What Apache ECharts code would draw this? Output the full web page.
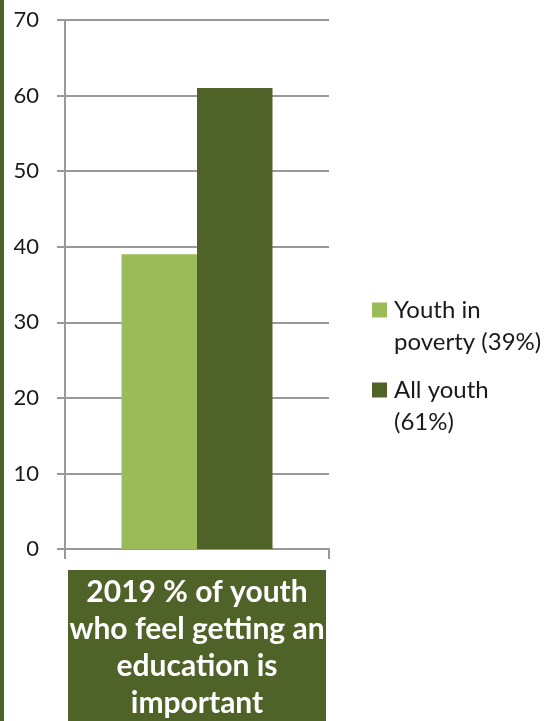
<!DOCTYPE html>
<html>
<head>
<meta charset="utf-8">
<script src="https://cdn.jsdelivr.net/npm/echarts@6/dist/echarts.min.js"></script>
<style>
html,body{margin:0;padding:0;background:#fff;}
#chart{width:550px;height:721px;}
</style>
</head>
<body>
<div id="chart"></div>
<script>
// Data
const categories = ['2019 % of youth\nwho feel getting an\neducation is\nimportant'];
const seriesNames = ['Youth in poverty (39%)', 'All youth (61%)'];
const legendLabels = ['Youth in\npoverty (39%)', 'All youth\n(61%)'];
const youthInPoverty = [39];
const allYouth = [61];
const yTicks = [0, 10, 20, 30, 40, 50, 60, 70];

const FONT = 'Lato';
const chart = echarts.init(document.getElementById('chart'), null, {renderer: 'canvas'});
const option = {
  animation: false,
  backgroundColor: '#ffffff',
  graphic: [{
    type: 'rect', left: 0, top: 0,
    shape: {width: 4, height: 721},
    style: {fill: '#4F6228'}
  }],
  grid: {left: 65, right: 221, top: 20, bottom: 172, containLabel: false, outerBoundsMode: 'none'},
  legend: {
    orient: 'vertical',
    left: 372,
    top: 262,
    padding: 0,
    itemGap: -16,
    itemWidth: 15,
    itemHeight: 15,
    icon: 'rect',
    data: seriesNames,
    // a blank leading line keeps the marker level with the first text line
    formatter: function (name) { return '\u00a0\n' + legendLabels[seriesNames.indexOf(name)]; },
    textStyle: {
      fontFamily: FONT, fontSize: 24, color: '#1a1a1a',
      lineHeight: 32, padding: [0, 0, 0, 2]
    }
  },
  xAxis: {
    type: 'category',
    data: categories,
    boundaryGap: true,
    axisLine: {show: true, lineStyle: {color: '#999999', width: 2}},
    axisTick: {show: true, length: 10, lineStyle: {color: '#999999', width: 2}},
    axisLabel: {
      margin: 21,
      interval: 0,
      color: '#ffffff',
      fontFamily: FONT,
      fontWeight: 'bold',
      fontSize: 30,
      lineHeight: 37,
      backgroundColor: '#4F6228',
      width: 258,
      align: 'center',
      verticalAlign: 'top',
      padding: [4, 0, 30, 0]
    }
  },
  yAxis: {
    type: 'value',
    min: 0, max: 70, interval: 10,
    axisLine: {show: true, lineStyle: {color: '#999999', width: 2}},
    axisTick: {show: true, length: 8, lineStyle: {color: '#999999', width: 2}},
    splitLine: {show: true, lineStyle: {color: '#999999', width: 2}},
    axisLabel: {
      margin: 26,
      color: '#1a1a1a',
      fontFamily: FONT,
      fontSize: 22,
      formatter: function (v) { return yTicks.indexOf(v) >= 0 ? String(v) : ''; }
    }
  },
  series: [
    {
      name: seriesNames[0], type: 'bar', data: youthInPoverty,
      barWidth: 75.5, barGap: '0%',
      itemStyle: {color: '#9BBB59'}
    },
    {
      name: seriesNames[1], type: 'bar', data: allYouth,
      barWidth: 75.5, barGap: '0%',
      itemStyle: {color: '#4F6228'}
    }
  ]
};
chart.setOption(option);
</script>
</body>
</html>
